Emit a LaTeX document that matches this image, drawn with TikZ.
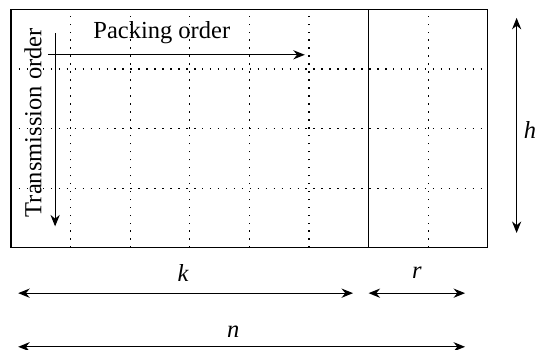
\documentclass[tikz,border=0pt]{standalone}
\usepackage{fontspec}
\setmainfont{Liberation Serif}
\usetikzlibrary{arrows.meta,positioning}
\tikzset{
    gridline/.style={line width=0.6pt, dash pattern=on 0.7pt off 3.1pt},
    dimarrow/.style={{Stealth[length=5.5pt,width=4.4pt,inset=1.8pt]}-{Stealth[length=5.5pt,width=4.4pt,inset=1.8pt]}, line width=0.55pt},
    orderarrow/.style={-{Stealth[length=5.5pt,width=4.4pt,inset=1.8pt]}, line width=0.55pt},
    lbl/.style={font=\fontsize{11.7}{14}\selectfont, inner sep=1pt}
}

\begin{document}
\begin{tikzpicture}
    \useasboundingbox (-0.185,-1.71) rectangle (8.81,4.16);

    % Dotted grid inside the block
    \foreach \x in {1,...,5,7} {
        \draw[gridline] (\x,0) -- (\x,4);
    }
    \foreach \y in {1,2,3} {
        \draw[gridline] (0,\y) -- (8,\y);
    }

    % Block outline and data/parity split
    \draw[line width=0.55pt] (0,0) rectangle (8,4);
    \draw[line width=0.55pt] (6,0) -- (6,4);

    % Packing and transmission order
    \coordinate (packS) at (0.62,3.24);
    \coordinate (packE) at (4.93,3.24);
    \draw[orderarrow] (packS) -- (packE);
    \node[lbl] (packing) at (2.53,3.62) {Packing order};

    \coordinate (transS) at (0.74,3.6);
    \coordinate (transE) at (0.74,0.36);
    \draw[orderarrow] (transS) -- (transE);
    \node[lbl, rotate=90] (transmission) at (0.37,2.1) {Transmission order};

    % Dimension arrows
    \coordinate (hT) at (8.485,3.86);
    \coordinate (hB) at (8.485,0.25);
    \draw[dimarrow] (hT) -- (hB);
    \node[lbl] (hlbl) at (8.71,1.98) {\textit{h}};

    \coordinate (kL) at (0.12,-0.76);
    \coordinate (kR) at (5.74,-0.76);
    \draw[dimarrow] (kL) -- (kR);
    \node[lbl] (klbl) at (2.89,-0.42) {\textit{k}};

    \coordinate (rL) at (6.0,-0.76);
    \coordinate (rR) at (7.62,-0.76);
    \draw[dimarrow] (rL) -- (rR);
    \node[lbl] (rlbl) at (6.81,-0.42) {\textit{r}};

    \coordinate (nL) at (0.12,-1.66);
    \coordinate (nR) at (7.62,-1.66);
    \draw[dimarrow] (nL) -- (nR);
    \node[lbl] (nlbl) at (3.73,-1.41) {\textit{n}};

\end{tikzpicture}
\end{document}
